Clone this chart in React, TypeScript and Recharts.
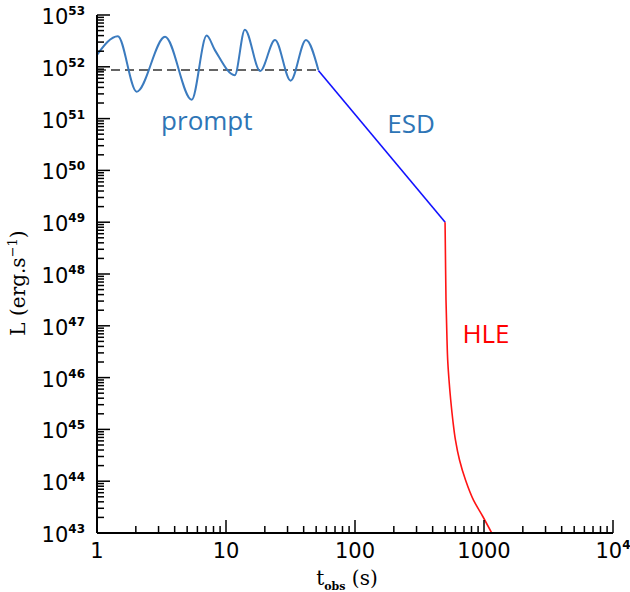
import { LineChart, Line, XAxis, YAxis, ReferenceDot, Label } from "recharts";

// prompt emission (wiggly light-curve)
const promptT = [1, 1.45, 2.03, 3.37, 5.42, 7.08, 8.2, 11.7, 14.0, 18.4, 24, 31.7, 41.7, 52];
const promptL = [1.7e52, 3.9e52, 3.3e51, 3.8e52, 2.3e51, 4e52, 2.1e52, 6.9e51, 5.2e52, 8.3e51, 3.3e52, 5.4e51, 3.3e52, 8.7e51];

// dashed mean level of the prompt phase
const plateauT = [1, 52];
const plateauL = [8.7e51, 8.7e51];

// extended steep decay
const esdT = [52, 500];
const esdL = [8.5e51, 1e49];

// high latitude emission
const hleT = [499, 503, 507.5, 516.7, 523, 535.5, 552, 573, 601, 646, 719, 829, 974, 1148];
const hleL = [1e49, 1.86e48, 3.15e47, 5.3e46, 2.2e46, 9e45, 3.7e45, 1.52e45, 6.2e44, 2.56e44, 1.05e44, 4.3e43, 2.13e43, 1e43];

const xMajor = [1, 10, 100, 1000, 10000];
const xLabels = ["1", "10", "100", "1000", "10|4"];
const yExponents = [43, 44, 45, 46, 47, 48, 49, 50, 51, 52, 53];

const toPoints = (t: number[], l: number[]) => t.map((v, i) => ({ t: v, L: l[i] }));

const withMinor = (majors: number[]) => {
  const out: number[] = [];
  majors.forEach((m, i) => {
    out.push(m);
    if (i < majors.length - 1) for (let k = 2; k <= 9; k++) out.push(m * k);
  });
  return out;
};

const yMajor = yExponents.map((e) => Number("1e" + e));
const xTicks = withMinor(xMajor);
const yTicks = withMinor(yMajor);

const isMajor = (v: number) => {
  const lg = Math.log10(v);
  return Math.abs(lg - Math.round(lg)) < 1e-6;
};

const MAJOR = 13;
const MINOR = 7;
const tickFont = "'DejaVu Sans', 'Liberation Sans', sans-serif";
const titleFont = "'DejaVu Serif', 'Liberation Serif', serif";

function BottomTick(props: any) {
  const { x, y, payload } = props;
  const v = payload.value;
  const major = isMajor(v);
  const idx = xMajor.findIndex((m) => Math.abs(m - v) < 1e-6 * m);
  const lab = idx >= 0 ? xLabels[idx] : "";
  const [base, sup] = lab.split("|");
  return (
    <g>
      <line x1={x} y1={y} x2={x} y2={y - (major ? MAJOR : MINOR)} stroke="#000" strokeWidth={1.5} />
      {major && (
        <text x={x} y={y + 25} textAnchor="middle" fontFamily={tickFont} fontSize={21} fill="#000">
          {base}
          {sup && (
            <tspan dy={-9} fontSize={12} fontWeight="bold">
              {sup}
            </tspan>
          )}
        </text>
      )}
    </g>
  );
}

function TopTick(props: any) {
  const { x, y, payload } = props;
  const major = isMajor(payload.value);
  return <line x1={x} y1={y} x2={x} y2={y + (major ? MAJOR : MINOR)} stroke="#000" strokeWidth={1.5} />;
}

function LeftTick(props: any) {
  const { x, y, payload } = props;
  const v = payload.value;
  const major = isMajor(v);
  return (
    <g>
      <line x1={x} y1={y} x2={x + (major ? MAJOR : MINOR)} y2={y} stroke="#000" strokeWidth={1.5} />
      {major && (
        <text x={x - 12} y={y + 9} textAnchor="end" fontFamily={tickFont} fontSize={21} fill="#000">
          10
          <tspan dy={-9} fontSize={12} fontWeight="bold">
            {Math.round(Math.log10(v))}
          </tspan>
        </text>
      )}
    </g>
  );
}

function RightTick(props: any) {
  const { x, y, payload } = props;
  const major = isMajor(payload.value);
  return <line x1={x} y1={y} x2={x - (major ? MAJOR : MINOR)} y2={y} stroke="#000" strokeWidth={1.5} />;
}

const tag = (text: string, color: string) => (p: any) =>
  (
    <text x={p.cx} y={p.cy} textAnchor="middle" fontFamily="'Open Sans', 'Noto Sans', sans-serif" fontSize={26} fill={color}>
      {text}
    </text>
  );

const axisLine = { stroke: "#000", strokeWidth: 2 };

export default function App() {
  return (
    <div style={{ position: "absolute", left: 0, top: 0, background: "#fff" }}>
      <LineChart width={630} height={592} margin={{ top: 15, right: 17, bottom: 0, left: 0 }}>
        <XAxis
          xAxisId="b"
          dataKey="t"
          type="number"
          scale="log"
          domain={[1, 10000]}
          allowDataOverflow
          ticks={xTicks}
          interval={0}
          tickSize={0}
          tickMargin={0}
          tick={<BottomTick />}
          axisLine={axisLine}
          height={59}
        >
          <Label
            content={(p: any) => {
              const vb = p.viewBox || { x: 97, width: 516 };
              return (
                <text x={vb.x + vb.width / 2 - 8} y={585} textAnchor="middle" fontFamily={titleFont} fontSize={20} fill="#000">
                  t
                  <tspan dy={5} fontSize={11} fontWeight="bold">
                    obs
                  </tspan>
                  <tspan dy={-5}>{"  (s)"}</tspan>
                </text>
              );
            }}
          />
        </XAxis>
        <XAxis
          xAxisId="top"
          orientation="top"
          dataKey="t"
          type="number"
          scale="log"
          domain={[1, 10000]}
          allowDataOverflow
          ticks={xTicks}
          interval={0}
          tickSize={0}
          tickMargin={0}
          tick={<TopTick />}
          axisLine={axisLine}
          height={0}
        />
        <YAxis
          yAxisId="l"
          dataKey="L"
          type="number"
          scale="log"
          domain={[1e43, 1e53]}
          allowDataOverflow
          ticks={yTicks}
          interval={0}
          tickSize={0}
          tickMargin={0}
          tick={<LeftTick />}
          axisLine={axisLine}
          width={97}
        >
          <Label
            content={() => (
              <text transform="translate(25,283) rotate(-90)" textAnchor="middle" fontFamily={titleFont} fontSize={20} fill="#000">
                {"L  (erg.s"}
                <tspan dy={-8} fontSize={13}>
                  −1
                </tspan>
                <tspan dy={8}>)</tspan>
              </text>
            )}
          />
        </YAxis>
        <YAxis
          yAxisId="r"
          orientation="right"
          dataKey="L"
          type="number"
          scale="log"
          domain={[1e43, 1e53]}
          allowDataOverflow
          ticks={yTicks}
          interval={0}
          tickSize={0}
          tickMargin={0}
          tick={<RightTick />}
          axisLine={axisLine}
          width={0}
        />

        <Line
          xAxisId="b"
          yAxisId="l"
          data={toPoints(plateauT, plateauL)}
          dataKey="L"
          type="linear"
          stroke="#333"
          strokeWidth={1.6}
          strokeDasharray="9 5"
          dot={false}
          isAnimationActive={false}
        />
        <Line
          xAxisId="b"
          yAxisId="l"
          data={toPoints(promptT, promptL)}
          dataKey="L"
          type="monotone"
          stroke="#3b7bbf"
          strokeWidth={2}
          dot={false}
          isAnimationActive={false}
        />
        <Line
          xAxisId="b"
          yAxisId="l"
          data={toPoints(esdT, esdL)}
          dataKey="L"
          type="linear"
          stroke="#1212ff"
          strokeWidth={1.6}
          dot={false}
          isAnimationActive={false}
        />
        <Line
          xAxisId="b"
          yAxisId="l"
          data={toPoints(hleT, hleL)}
          dataKey="L"
          type="monotoneY"
          stroke="#ff1414"
          strokeWidth={1.6}
          dot={false}
          isAnimationActive={false}
        />
        {/* hidden copy so the mirrored axes get a domain */}
        <Line
          xAxisId="top"
          yAxisId="r"
          data={toPoints(plateauT, plateauL)}
          dataKey="L"
          stroke="none"
          dot={false}
          isAnimationActive={false}
        />

        <ReferenceDot xAxisId="b" yAxisId="l" x={7.1} y={6e50} r={0} shape={tag("prompt", "#2e75b6")} />
        <ReferenceDot xAxisId="b" yAxisId="l" x={272} y={5.2e50} r={0} shape={tag("ESD", "#2e75b6")} />
        <ReferenceDot xAxisId="b" yAxisId="l" x={1036} y={4.7e46} r={0} shape={tag("HLE", "#ff0000")} />
      </LineChart>
    </div>
  );
}
